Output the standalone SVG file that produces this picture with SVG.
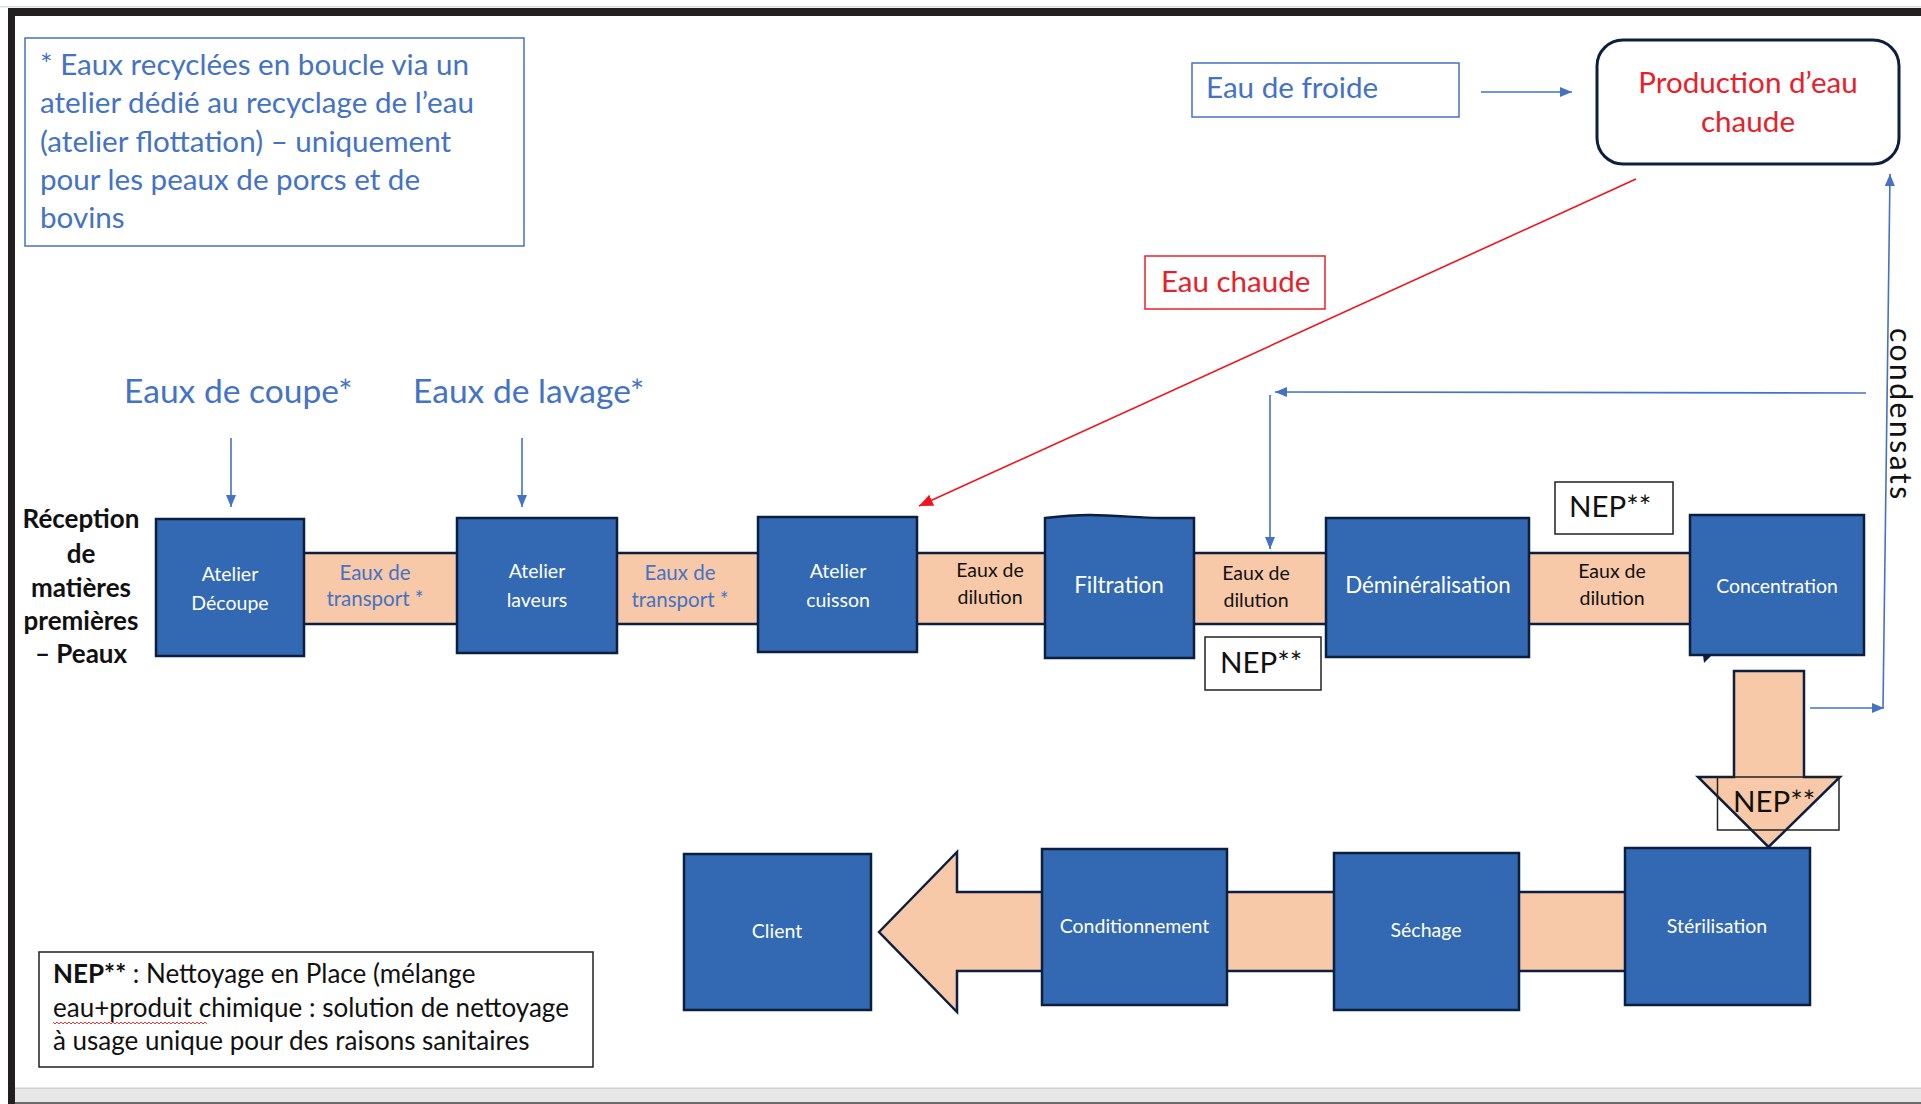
<svg xmlns="http://www.w3.org/2000/svg" width="1921" height="1104" viewBox="0 0 1921 1104">
  <style>
    text { font-family: Lato, "Open Sans", "Liberation Sans", sans-serif; }
    .step { fill: #3269B2; stroke: #0c1f3e; stroke-width: 2.5; }
    .band { fill: #F7C9A8; stroke: #0c1f3e; stroke-width: 2.5; }
    .lbl { fill: #ffffff; text-anchor: middle; }
    .blue { fill: #4472C4; }
    .red { fill: #E8202A; }
    .dark { fill: #111111; }
    .nep { fill: #ffffff; stroke: #222222; stroke-width: 1.5; }
    .nep-open { fill: none; stroke: #222222; stroke-width: 1.5; }
    .flow { fill: none; stroke: #4472C4; stroke-width: 1.6; marker-end: url(#ab); }
  </style>
  <defs>
    <marker id="ab" markerUnits="userSpaceOnUse" markerWidth="12" markerHeight="10" refX="12" refY="5" orient="auto">
      <path d="M0,0 L12,5 L0,10 Z" fill="#4472C4"/>
    </marker>
    <marker id="ar" markerUnits="userSpaceOnUse" markerWidth="14" markerHeight="12" refX="14" refY="6" orient="auto">
      <path d="M0,0 L14,6 L0,12 Z" fill="#F0141E"/>
    </marker>
  </defs>

  <rect width="1921" height="1104" fill="#ffffff"/>

  <!-- page frame -->
  <g id="frame">
    <rect x="0" y="6" width="1921" height="1.5" fill="#dedede"/>
    <rect x="8" y="8" width="1913" height="8" fill="#231f20"/>
    <rect x="8" y="8" width="7" height="1096" fill="#231f20"/>
    <rect x="15" y="1088" width="1906" height="16" fill="#e6e7e6"/>
    <rect x="15" y="1087.5" width="1906" height="1.5" fill="#d2d2d2"/>
    <rect x="15" y="1102" width="1906" height="2" fill="#6b6b6b"/>
  </g>

  <!-- footnote on recycled water -->
  <g id="note-recyclage">
    <rect x="25" y="38" width="499" height="208" fill="#ffffff" stroke="#4472C4" stroke-width="1.5"/>
    <g class="blue" font-size="29.6">
      <text x="40" y="75">* Eaux recyclées en boucle via un</text>
      <text x="40" y="113">atelier dédié au recyclage de l’eau</text>
      <text x="40" y="152">(atelier flottation) – uniquement</text>
      <text x="40" y="190">pour les peaux de porcs et de</text>
      <text x="40" y="228">bovins</text>
    </g>
  </g>

  <!-- legend for NEP -->
  <g id="legende-nep">
    <rect x="39" y="952" width="554" height="115" fill="#ffffff" stroke="#222222" stroke-width="1.5"/>
    <g class="dark" font-size="26">
      <text x="53" y="983"><tspan font-weight="bold">NEP**</tspan> : Nettoyage en Place (mélange</text>
      <text x="53" y="1017">eau+produit chimique : solution de nettoyage</text>
      <text x="53" y="1050">à usage unique pour des raisons sanitaires</text>
    </g>
    <path d="M53,1022 l2,2 l2,-2 l2,2 l2,-2 l2,2 l2,-2 l2,2 l2,-2 l2,2 l2,-2 l2,2 l2,-2 l2,2 l2,-2 l2,2 l2,-2 l2,2 l2,-2 l2,2 l2,-2 l2,2 l2,-2 l2,2 l2,-2 l2,2 l2,-2 l2,2 l2,-2 l2,2 l2,-2 l2,2 l2,-2 l2,2 l2,-2 l2,2 l2,-2 l2,2 l2,-2 l2,2 l2,-2 l2,2 l2,-2 l2,2 l2,-2 l2,2 l2,-2 l2,2 l2,-2 l2,2 l2,-2 l2,2 l2,-2 l2,2 l2,-2 l2,2 l2,-2 l2,2 l2,-2 l2,2 l2,-2 l2,2 l2,-2 l2,2 l2,-2 l2,2 l2,-2 l2,2 l2,-2 l2,2 l2,-2 l2,2 l2,-2 l2,2 l2,-2 l2,2 l2,-2 l2,2" fill="none" stroke="#e02020" stroke-width="0.9"/>
  </g>

  <!-- water inputs -->
  <g id="eau-froide">
    <rect x="1192" y="63" width="267" height="54" fill="#ffffff" stroke="#4472C4" stroke-width="1.5"/>
    <text class="blue" x="1206" y="98" font-size="29.6">Eau de froide</text>
  </g>
  <g id="production-eau-chaude">
    <rect x="1597" y="40" width="302" height="124" rx="26" fill="#ffffff" stroke="#0c1f3e" stroke-width="3"/>
    <text class="red" x="1748" y="93" font-size="29.6" text-anchor="middle">Production d’eau</text>
    <text class="red" x="1748" y="132" font-size="29.6" text-anchor="middle">chaude</text>
  </g>
  <g id="eau-chaude">
    <rect x="1145" y="256" width="180" height="53" fill="#ffffff" stroke="#E8202A" stroke-width="1.5"/>
    <text class="red" x="1161" y="292" font-size="29.5">Eau chaude</text>
  </g>
  <g id="eaux-coupe">
    <text class="blue" x="124" y="403" font-size="33.6">Eaux de coupe*</text>
  </g>
  <g id="eaux-lavage">
    <text class="blue" x="413" y="403" font-size="33.6">Eaux de lavage*</text>
  </g>
  <g id="condensats">
    <text class="dark" transform="translate(1890,328) rotate(90)" font-size="30" letter-spacing="2.5">condensats</text>
  </g>
  <g id="reception">
    <g class="dark" font-size="26" font-weight="bold" text-anchor="middle">
      <text x="81" y="528">Réception</text>
      <text x="81" y="563">de</text>
      <text x="81" y="597">matières</text>
      <text x="81" y="630">premières</text>
      <text x="81" y="663">– Peaux</text>
    </g>
  </g>

  <!-- process line bands (drawn beneath the steps) -->
  <g id="bandes">
    <rect class="band" x="300" y="553" width="1395" height="71"/>
    <path class="band" d="M879,932 L957,852 L957,892 L1720,892 L1720,971 L957,971 L957,1012 Z"/>
    <path class="band" d="M1734,671 L1804,671 L1804,777 L1840,777 L1768.5,847 L1698,777 L1734,777 Z"/>
  </g>

  <!-- band captions -->
  <g id="liaisons-texte" text-anchor="middle">
    <g class="blue" font-size="20.5">
      <text x="375" y="580">Eaux de</text>
      <text x="375" y="606">transport *</text>
      <text x="680" y="580">Eaux de</text>
      <text x="680" y="607">transport *</text>
    </g>
    <g class="dark" font-size="19.5">
      <text x="990" y="577">Eaux de</text>
      <text x="990" y="604">dilution</text>
      <text x="1256" y="580">Eaux de</text>
      <text x="1256" y="607">dilution</text>
      <text x="1612" y="578">Eaux de</text>
      <text x="1612" y="605">dilution</text>
    </g>
  </g>

  <!-- process steps -->
  <g id="atelier-decoupe">
    <rect class="step" x="156" y="519" width="148" height="137"/>
    <text class="lbl" x="230" y="581" font-size="19.5">Atelier</text>
    <text class="lbl" x="230" y="610" font-size="19.5">Découpe</text>
  </g>
  <g id="atelier-laveurs">
    <rect class="step" x="457" y="518" width="160" height="135"/>
    <text class="lbl" x="537" y="578" font-size="19.5">Atelier</text>
    <text class="lbl" x="537" y="607" font-size="19.5">laveurs</text>
  </g>
  <g id="atelier-cuisson">
    <rect class="step" x="758" y="517" width="159" height="135"/>
    <text class="lbl" x="838" y="578" font-size="19.5">Atelier</text>
    <text class="lbl" x="838" y="607" font-size="19.5">cuisson</text>
  </g>
  <g id="filtration">
    <path class="step" d="M1045,518 C1062,516 1075,515 1090,515 C1115,515 1140,518 1160,518 L1194,518 L1194,658 L1045,658 Z"/>
    <text class="lbl" x="1119" y="593" font-size="22.5">Filtration</text>
  </g>
  <g id="demineralisation">
    <rect class="step" x="1326" y="518" width="203" height="139"/>
    <text class="lbl" x="1428" y="593" font-size="22.3">Déminéralisation</text>
  </g>
  <g id="concentration">
    <rect class="step" x="1690" y="515" width="174" height="140"/>
    <path d="M1703,655 L1712,655 L1704,663 Z" fill="#0c1f3e"/>
    <text class="lbl" x="1777" y="593" font-size="19.4">Concentration</text>
  </g>
  <g id="client">
    <rect class="step" x="684" y="854" width="187" height="156"/>
    <text class="lbl" x="777" y="938" font-size="19.5">Client</text>
  </g>
  <g id="conditionnement">
    <rect class="step" x="1042" y="849" width="185" height="156"/>
    <text class="lbl" x="1134.5" y="933" font-size="19.5">Conditionnement</text>
  </g>
  <g id="sechage">
    <rect class="step" x="1334" y="853" width="185" height="157"/>
    <text class="lbl" x="1426" y="937" font-size="19.5">Séchage</text>
  </g>
  <g id="sterilisation">
    <rect class="step" x="1625" y="848" width="185" height="157"/>
    <text class="lbl" x="1717" y="933" font-size="19.5">Stérilisation</text>
  </g>

  <!-- NEP injection points -->
  <g id="nep-filtration">
    <rect class="nep" x="1205" y="637" width="116" height="53"/>
    <text class="dark" x="1220" y="673" font-size="29.5">NEP**</text>
  </g>
  <g id="nep-concentration">
    <rect class="nep" x="1555" y="482" width="118" height="52"/>
    <text class="dark" x="1569" y="517" font-size="29.5">NEP**</text>
  </g>
  <g id="nep-sterilisation">
    <rect class="nep-open" x="1717.5" y="777" width="121.5" height="53"/>
    <text class="dark" x="1733" y="812" font-size="29.5">NEP**</text>
  </g>

  <!-- connectors -->
  <g id="connecteurs">
    <line class="flow" x1="1481" y1="92" x2="1572" y2="92"/>
    <line x1="1636" y1="179" x2="919" y2="506" stroke="#F0141E" stroke-width="1.6" marker-end="url(#ar)"/>
    <line class="flow" x1="1883" y1="708" x2="1890" y2="174"/>
    <line class="flow" x1="1810" y1="708" x2="1884" y2="708"/>
    <line class="flow" x1="1866" y1="393" x2="1275" y2="392"/>
    <line class="flow" x1="1270" y1="395" x2="1270" y2="549"/>
    <line class="flow" x1="231" y1="438" x2="231" y2="507"/>
    <line class="flow" x1="522" y1="438" x2="522" y2="507"/>
  </g>
</svg>
